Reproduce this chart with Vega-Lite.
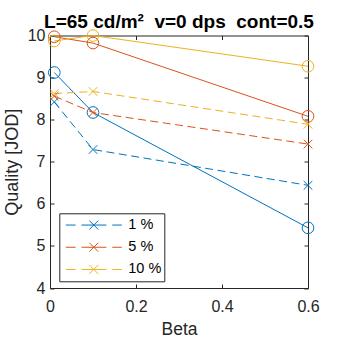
{
  "$schema": "https://vega.github.io/schema/vega-lite/v6.json",
  "width": 258,
  "height": 252.5,
  "autosize": {"type": "none"},
  "padding": {"left": 50, "top": 35.5, "right": 32, "bottom": 52},
  "background": "white",
  "title": {
    "text": "L=65 cd/m²\u00a0\u00a0v=0 dps\u00a0\u00a0cont=0.5",
    "font": "Liberation Sans",
    "fontSize": 19,
    "fontWeight": "bold",
    "color": "#000000",
    "anchor": "middle",
    "offset": -4
  },
  "data": {
    "values": [
      {"beta": 0.01, "quality": 9.12, "pct": "1 %", "kind": "solid"},
      {"beta": 0.1, "quality": 8.17, "pct": "1 %", "kind": "solid"},
      {"beta": 0.6, "quality": 5.43, "pct": "1 %", "kind": "solid"},
      {"beta": 0.01, "quality": 9.97, "pct": "5 %", "kind": "solid"},
      {"beta": 0.1, "quality": 9.82, "pct": "5 %", "kind": "solid"},
      {"beta": 0.6, "quality": 8.08, "pct": "5 %", "kind": "solid"},
      {"beta": 0.01, "quality": 9.87, "pct": "10 %", "kind": "solid"},
      {"beta": 0.1, "quality": 10.0, "pct": "10 %", "kind": "solid"},
      {"beta": 0.6, "quality": 9.27, "pct": "10 %", "kind": "solid"},
      {"beta": 0.01, "quality": 8.42, "pct": "1 %", "kind": "dashed"},
      {"beta": 0.1, "quality": 7.29, "pct": "1 %", "kind": "dashed"},
      {"beta": 0.6, "quality": 6.44, "pct": "1 %", "kind": "dashed"},
      {"beta": 0.01, "quality": 8.56, "pct": "5 %", "kind": "dashed"},
      {"beta": 0.1, "quality": 8.17, "pct": "5 %", "kind": "dashed"},
      {"beta": 0.6, "quality": 7.42, "pct": "5 %", "kind": "dashed"},
      {"beta": 0.01, "quality": 8.62, "pct": "10 %", "kind": "dashed"},
      {"beta": 0.1, "quality": 8.67, "pct": "10 %", "kind": "dashed"},
      {"beta": 0.6, "quality": 7.89, "pct": "10 %", "kind": "dashed"}
    ]
  },
  "resolve": {"axis": {"x": "independent", "y": "independent"}},
  "layer": [
    {
      "transform": [{"filter": "datum.kind == 'solid'"}],
      "mark": {"type": "line", "strokeWidth": 1, "clip": false},
      "encoding": {
        "x": {"field": "beta", "type": "quantitative", "scale": {"domain": [0, 0.6], "nice": false, "zero": false},
              "axis": {"title": "Beta", "values": [0, 0.2, 0.4, 0.6], "labelExpr": "'' + datum.value", "labelPadding": 14, "titlePadding": 6, "titleFontSize": 17.5}},
        "y": {"field": "quality", "type": "quantitative", "scale": {"domain": [4, 10], "nice": false, "zero": false},
              "axis": {"title": "Quality [JOD]", "values": [4, 5, 6, 7, 8, 9, 10], "labelPadding": 9, "titlePadding": 6}},
        "color": {"field": "pct", "type": "nominal", "scale": {"domain": ["1 %", "5 %", "10 %"], "range": ["#0072BD", "#D95319", "#EDB120"]}}
      }
    },
    {
      "transform": [{"filter": "datum.kind == 'solid'"}],
      "mark": {"type": "point", "shape": "circle", "filled": false, "size": 136, "strokeWidth": 1, "opacity": 1, "clip": false},
      "encoding": {
        "x": {"field": "beta", "type": "quantitative", "axis": null},
        "y": {"field": "quality", "type": "quantitative", "axis": null},
        "color": {"field": "pct", "type": "nominal"}
      }
    },
    {
      "transform": [{"filter": "datum.kind == 'dashed'"}],
      "mark": {"type": "line", "strokeWidth": 1, "strokeDash": [8, 4.5], "clip": false},
      "encoding": {
        "x": {"field": "beta", "type": "quantitative", "axis": null},
        "y": {"field": "quality", "type": "quantitative", "axis": null},
        "color": {"field": "pct", "type": "nominal"}
      }
    },
    {
      "transform": [{"filter": "datum.kind == 'dashed'"}],
      "mark": {"type": "point", "shape": "M-1,-1L1,1M-1,1L1,-1", "filled": false, "size": 74, "strokeWidth": 1, "opacity": 1, "clip": false},
      "encoding": {
        "x": {"field": "beta", "type": "quantitative", "axis": null},
        "y": {"field": "quality", "type": "quantitative", "axis": null},
        "color": {"field": "pct", "type": "nominal",
          "legend": {
            "title": null,
            "orient": "none",
            "legendX": 9.3,
            "legendY": 177.8,
            "direction": "vertical",
            "symbolType": "M-1,0H-0.65M-0.44,0H0.45M0.66,0H1M-0.16,-0.16L0.16,0.16M-0.16,0.16L0.16,-0.16",
            "symbolSize": 3136,
            "symbolStrokeWidth": 1,
            "symbolFillColor": "transparent",
            "clipHeight": 19.5,
            "rowPadding": 2.2,
            "padding": 2,
            "symbolOffset": 4,
            "labelOffset": 6,
            "labelFont": "Liberation Sans",
            "labelFontSize": 14.5,
            "labelColor": "#000000",
            "labelExpr": "datum.label + '\u00a0\u00a0\u00a0'",
            "strokeColor": "#262626",
            "fillColor": "#ffffff",
            "cornerRadius": 0,
            "encode": {"symbols": {"update": {"size": {"value": 3136}, "strokeWidth": {"value": 1}, "strokeDash": {"value": [1, 0]}, "opacity": {"value": 1}, "shape": {"value": "M-1,0H-0.65M-0.44,0H0.45M0.66,0H1M-0.16,-0.16L0.16,0.16M-0.16,0.16L0.16,-0.16"}}}}
          }
        }
      }
    },
    {
      "mark": {"type": "point", "opacity": 0},
      "encoding": {
        "x": {"field": "beta", "type": "quantitative",
              "axis": {"orient": "top", "title": null, "labels": false, "values": [0, 0.2, 0.4, 0.6]}},
        "y": {"field": "quality", "type": "quantitative",
              "axis": {"orient": "right", "title": null, "labels": false, "values": [4, 5, 6, 7, 8, 9, 10]}}
      }
    }
  ],
  "config": {
    "view": {"stroke": null},
    "axis": {
      "grid": false,
      "domainColor": "#262626",
      "domainWidth": 1,
      "tickColor": "#262626",
      "tickWidth": 1,
      "tickSize": -4,
      "labelColor": "#262626",
      "titleColor": "#262626",
      "labelFont": "Liberation Sans",
      "titleFont": "Liberation Sans",
      "labelFontSize": 16,
      "titleFontSize": 18,
      "titleFontWeight": "normal",
      "labelFlush": false,
      "labelOverlap": false
    }
  }
}
